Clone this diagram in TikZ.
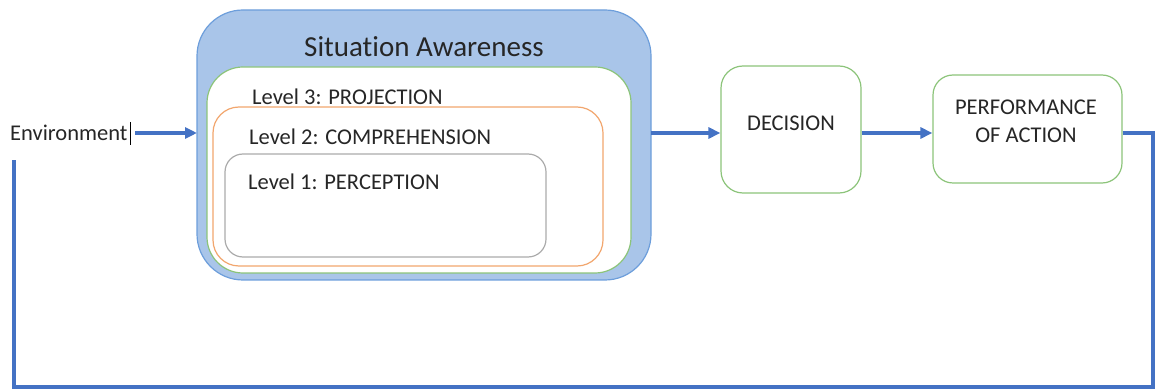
\documentclass[tikz,border=0pt]{standalone}
\usepackage{fontspec}
\setmainfont[Ligatures=NoCommon]{Carlito}
\usetikzlibrary{arrows.meta}
\definecolor{flowblue}{HTML}{4472C4}
\definecolor{safill}{HTML}{A9C5E9}
\definecolor{saedge}{HTML}{6D9EDB}
\definecolor{lvgreen}{HTML}{8CC47A}
\definecolor{lvorange}{HTML}{F2A66E}
\definecolor{lvgray}{HTML}{ABABAB}
\begin{document}
\begin{tikzpicture}[x=1pt,y=-1pt,
  flow/.style={draw=flowblue,line width=3.5pt},
  flowarrow/.style={flow,-{Triangle[length=12pt,width=11pt]}},
  lbl/.style={inner sep=0pt,anchor=west,font=\fontsize{22.5}{24}\selectfont,text=black!85},
  stagebox/.style={draw=lvgreen,line width=1.2pt,fill=white,rounded corners=22pt},
  boxtext/.style={inner sep=0pt,font=\fontsize{22.5}{28}\selectfont,text=black!85,align=center}]
\useasboundingbox (0,0) rectangle (1163,390);

% Situation awareness container and its nested levels
\draw[draw=saedge,fill=safill,line width=1.2pt,rounded corners=46pt] (197,10) rectangle (651,280);
\node[inner sep=0pt,font=\fontsize{29}{32}\selectfont,text=black!85] (satitle) at (424,47) {Situation Awareness};
\draw[draw=lvgreen,fill=white,line width=1.2pt,rounded corners=36pt] (207,67) rectangle (631,273);
\draw[draw=lvorange,line width=1.2pt,rounded corners=26pt] (213,107) rectangle (603,266);
\draw[draw=lvgray,line width=1.2pt,rounded corners=18pt] (225,154) rectangle (546,257);
\node[lbl] (l3) at (252,97) {Level 3: PROJECTION};
\node[lbl] (l2) at (249,137) {Level 2: COMPREHENSION};
\node[lbl] (l1) at (248,182) {Level 1: PERCEPTION};

% named anchors on the container edges
\coordinate (sain) at (197,133);
\coordinate (saout) at (651,133);

% decision and action stages
\node[stagebox,minimum width=140pt,minimum height=127pt] (dec) at (791,129.5) {};
\node[boxtext] (dectext) at (791,123) {DECISION};
\node[stagebox,rounded corners=20pt,minimum width=189pt,minimum height=108pt] (act) at (1027.5,129) {};
\node[boxtext] (acttext) at (1026,121.5) {PERFORMANCE\\OF ACTION};

% environment input
\node[lbl] (env) at (10,133) {Environment};
\draw[line width=0.8pt] (130,122) -- (130,145);
\coordinate (envout) at (135,133);

% flow
\draw[flowarrow] (envout) -- (sain);
\draw[flowarrow] (saout) -- (dec.west |- saout);
\draw[flowarrow] (dec.east |- saout) -- (act.west |- saout);

% feedback loop back to the environment
\coordinate (fbtop) at (1153,133);
\coordinate (fbright) at (1153,387);
\coordinate (fbleft) at (14,387);
\coordinate (fbend) at (14,160);
\draw[flow] (act.east |- saout) -- (fbtop) -- (fbright) -- (fbleft) -- (fbend);
\end{tikzpicture}
\end{document}
